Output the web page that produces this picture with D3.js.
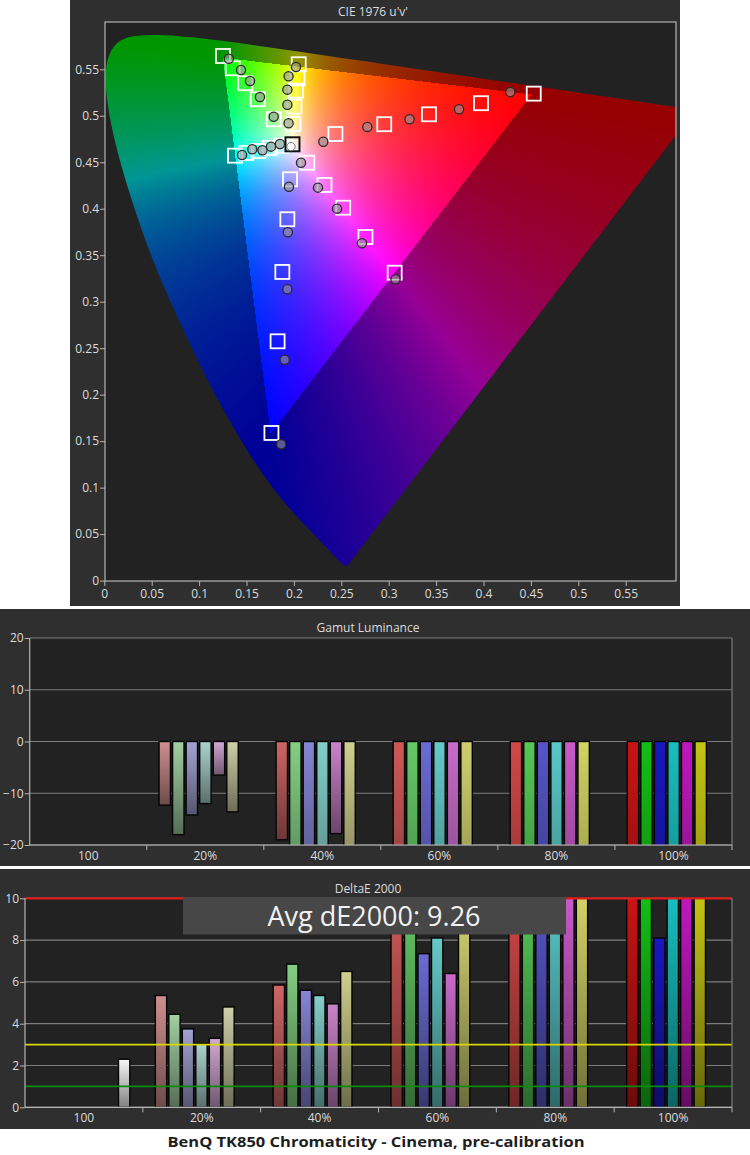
<!DOCTYPE html>
<html><head><meta charset="utf-8">
<script src="https://cdn.jsdelivr.net/npm/d3@7"></script>
<style>
body{margin:0;background:#fff;}
svg{display:block;}
text{font-family:"Open Sans","Noto Sans","DejaVu Sans",sans-serif;}
</style></head>
<body>
<svg id="chart" width="750" height="1155"></svg>
<script>
// ---------------- DATA ----------------
// Spectral locus (CIE 1976 u'v'), 380nm .. 700nm
const locusU = [0.2568,0.2557,0.2547,0.2522,0.2461,0.2347,0.2266,0.2161,0.2033,0.1877,0.1690,0.1441,0.1147,0.0828,0.0521,0.0282,0.0119,0.0035,0.0014,0.0046,0.0123,0.0231,0.0360,0.0501,0.0643,0.0792,0.0953,0.1127,0.1319,0.1531,0.1766,0.2026,0.2312,0.2623,0.2960,0.3315,0.3681,0.4035,0.4379,0.4692,0.5203,0.5565,0.5830,0.6005,0.6234];
const locusV = [0.0166,0.0159,0.0159,0.0169,0.0226,0.0350,0.0437,0.0549,0.0688,0.0871,0.1119,0.1510,0.2044,0.2708,0.3427,0.4117,0.4698,0.5131,0.5432,0.5638,0.5770,0.5837,0.5861,0.5868,0.5865,0.5856,0.5841,0.5821,0.5796,0.5766,0.5732,0.5694,0.5651,0.5604,0.5554,0.5501,0.5446,0.5393,0.5342,0.5296,0.5219,0.5165,0.5125,0.5099,0.5065];

const uvTicks = [0,0.05,0.1,0.15,0.2,0.25,0.3,0.35,0.4,0.45,0.5,0.55];

// Targets (squares) and measurements (circles), 20%..100% saturation
const whiteTarget = [0.1985,0.4693];
const whiteMeasured = [0.1969,0.4668];
const redTargets = [[0.2438,0.4804],[0.2953,0.4909],[0.3425,0.5016],[0.3974,0.5135],[0.4530,0.5238]];
const redMeasured = [[0.2310,0.4721],[0.2775,0.4880],[0.3220,0.4962],[0.3742,0.5070],[0.4283,0.5256]];
const greenTargets = [[0.1788,0.4962],[0.1618,0.5178],[0.1487,0.5350],[0.1355,0.5511],[0.1252,0.5643]];
const greenMeasured = [[0.1787,0.4990],[0.1642,0.5202],[0.1537,0.5374],[0.1442,0.5493],[0.1314,0.5614]];
const blueTargets = [[0.1959,0.4317],[0.1931,0.3887],[0.1878,0.3320],[0.1828,0.2574],[0.1763,0.1588]];
const blueMeasured = [[0.1948,0.4237],[0.1936,0.3747],[0.1931,0.3134],[0.1903,0.2376],[0.1866,0.1466]];
const cyanTargets = [[0.1866,0.4678],[0.1746,0.4654],[0.1627,0.4621],[0.1499,0.4600],[0.1379,0.4571]];
const cyanMeasured = [[0.1853,0.4697],[0.1758,0.4668],[0.1668,0.4629],[0.1561,0.4640],[0.1453,0.4578]];
const magentaTargets = [[0.2141,0.4495],[0.2323,0.4256],[0.2520,0.4011],[0.2755,0.3696],[0.3063,0.3312]];
const magentaMeasured = [[0.2075,0.4495],[0.2254,0.4227],[0.2455,0.4001],[0.2718,0.3628],[0.3072,0.3241]];
const yellowTargets = [[0.1994,0.4912],[0.2005,0.5098],[0.2022,0.5270],[0.2038,0.5403],[0.2051,0.5554]];
const yellowMeasured = [[0.1944,0.4919],[0.1931,0.5119],[0.1931,0.5281],[0.1944,0.5425],[0.2022,0.5525]];

// Bar charts
const groups = ["100","20%","40%","60%","80%","100%"];
const colorNames = ["Red","Green","Blue","Cyan","Magenta","Yellow"];
const lumTicks = [-20,-10,0,10,20];
const lumWhite = 0;
const lum20 = [-12.3,-18.0,-14.2,-12.0,-6.5,-13.6];
const lum40 = [-19.0,-38,-36,-40,-17.8,-34];
const lum60 = [-45,-48,-44,-46,-42,-47];
const lum80 = [-50,-52,-49,-51,-48,-53];
const lum100 = [-55,-58,-54,-56,-52,-57];

const deTicks = [0,2,4,6,8,10];
const deWhite = 2.3;
const de20 = [5.35,4.45,3.75,3.05,3.3,4.8];
const de40 = [5.85,6.85,5.6,5.35,4.95,6.5];
const de60 = [9.6,10.2,7.35,8.1,6.4,9.3];
const de80 = [13.5,14.5,12.0,12.5,14.0,13.5];
const de100 = [17.5,19.0,8.1,15.5,17.0,16.85];
const deAvgLabel = "Avg dE2000: 9.26";
const deThresholds = [10,3,1];

const barColors20 = ["#d08f8f","#a2cfa2","#a3a3d4","#acd3ce","#d3a7d3","#cfcfa8"];
const barColors40 = ["#cf6666","#84cf84","#8585d4","#84cfca","#ca84ca","#cfcf8e"];
const barColors60 = ["#cf5858","#66ca66","#6b6bd4","#66caca","#ca6bca","#cfcf70"];
const barColors80 = ["#d04848","#55c855","#5555c8","#5ac8c8","#c85ac8","#d2d264"];
const barColors100 = ["#c81414","#14be14","#1818be","#18bebe","#be18be","#c4c414"];
const whiteBarColor = "#f6f6f6";

// ---------------- CHART ----------------
const svg = d3.select("#chart");
const defs = svg.append("defs");
const FONT_COL = "#dcdcdc";
const PANEL = "#2f2f2f", PLOT = "#222222", GRID = "#7c7c7c", AXIS = "#b4b4b4";

// ---------- Top panel: CIE 1976 u'v' ----------
svg.append("rect").attr("x",70).attr("y",0).attr("width",610).attr("height",606).attr("fill",PANEL);
svg.append("text").attr("x",373).attr("y",16).attr("text-anchor","middle")
  .attr("font-size",12).attr("fill",FONT_COL).text("CIE 1976 u'v'");

const pL=105, pT=22, pR=676, pB=581;
const xU = d3.scaleLinear().domain([0,0.6]).range([104.3,673.1]);
const yV = d3.scaleLinear().domain([0,0.6]).range([580.6,22.8]);

svg.append("rect").attr("x",pL).attr("y",pT).attr("width",pR-pL).attr("height",pB-pT).attr("fill",PLOT);

defs.append("clipPath").attr("id","cieClip").append("rect")
  .attr("x",pL).attr("y",pT).attr("width",pR-pL).attr("height",pB-pT);

const locusPts = locusU.map((u,i)=>[xU(u), yV(locusV[i])]);
const locusPath = d3.line().curve(d3.curveCatmullRom.alpha(0.5))(locusPts) + "Z";
defs.append("clipPath").attr("id","locusClip").append("path").attr("d",locusPath);

// colour fill of the diagram
const W = pR-pL, H = pB-pT;
const cv = document.createElement("canvas"); cv.width=W; cv.height=H;
const ctx = cv.getContext("2d");
const im = ctx.createImageData(W,H);
for(let j=0;j<H;j++){
  const v = yV.invert(pT+j+0.5);
  for(let i=0;i<W;i++){
    const u = xU.invert(pL+i+0.5);
    const d = 6*u-16*v+12;
    const x = 9*u/d, y = 4*v/d;
    let r=0,g=0,b=0;
    if(y>1e-4){
      const X=x/y, Y=1, Z=(1-x-y)/y;
      r = 3.2406*X-1.5372*Y-0.4986*Z;
      g = -0.9689*X+1.8758*Y+0.0415*Z;
      b = 0.0557*X-0.2040*Y+1.0570*Z;
      const inG = r>=0&&g>=0&&b>=0;
      r=Math.max(r,0); g=Math.max(g,0); b=Math.max(b,0);
      const m=Math.max(r,g,b)||1;
      const k = inG?255:150;
      r=r/m*k; g=g/m*k; b=b/m*k;
    }
    const o=(j*W+i)*4;
    im.data[o]=r; im.data[o+1]=g; im.data[o+2]=b; im.data[o+3]=255;
  }
}
ctx.putImageData(im,0,0);
const cie = svg.append("g").attr("clip-path","url(#cieClip)");
cie.append("image").attr("x",pL).attr("y",pT).attr("width",W).attr("height",H)
  .attr("href",cv.toDataURL()).attr("clip-path","url(#locusClip)");

// frame + axes
svg.append("rect").attr("x",pL).attr("y",pT).attr("width",pR-pL).attr("height",pB-pT)
  .attr("fill","none").attr("stroke",AXIS).attr("stroke-width",1.2);
const fmt = d=>String(d);
const xAx = svg.append("g").attr("transform",`translate(0,${pB})`)
  .call(d3.axisBottom(xU).tickValues(uvTicks).tickFormat(fmt).tickSize(5).tickPadding(3));
const yAx = svg.append("g").attr("transform",`translate(${pL},0)`)
  .call(d3.axisLeft(yV).tickValues(uvTicks).tickFormat(fmt).tickSize(5).tickPadding(1));
[xAx,yAx].forEach(a=>{
  a.select(".domain").remove();
  a.selectAll("line").attr("stroke",AXIS);
  a.selectAll("text").attr("fill",FONT_COL).attr("font-size",12).attr("font-family",null);
});

// markers
const allTargets = [redTargets,greenTargets,blueTargets,cyanTargets,magentaTargets,yellowTargets].flat();
const allMeasured = [redMeasured,greenMeasured,blueMeasured,cyanMeasured,magentaMeasured,yellowMeasured].flat();
const mk = cie.append("g");
const S = 14;
mk.selectAll("rect.t").data(allTargets).join("rect").attr("class","t")
  .attr("x",d=>xU(d[0])-S/2).attr("y",d=>yV(d[1])-S/2).attr("width",S).attr("height",S)
  .attr("fill","none").attr("stroke","#ffffff").attr("stroke-width",1.8);
mk.append("rect").attr("x",xU(whiteTarget[0])-S/2).attr("y",yV(whiteTarget[1])-S/2)
  .attr("width",S).attr("height",S).attr("fill","none").attr("stroke","#111").attr("stroke-width",2);
mk.selectAll("circle.m").data(allMeasured).join("circle").attr("class","m")
  .attr("cx",d=>xU(d[0])).attr("cy",d=>yV(d[1])).attr("r",4.6)
  .attr("fill","rgba(150,150,150,0.6)").attr("stroke","#2a2a2a").attr("stroke-width",1.3);
mk.append("circle").attr("cx",xU(whiteMeasured[0])).attr("cy",yV(whiteMeasured[1])).attr("r",4.2)
  .attr("fill","#fafafa").attr("stroke","#555").attr("stroke-width",0.8);

// ---------- gradients for bars ----------
const gradId = {};
function grad(c){
  if(gradId[c]) return gradId[c];
  const id = "g"+c.replace("#","");
  const lg = defs.append("linearGradient").attr("id",id).attr("x1",0).attr("y1",0).attr("x2",0).attr("y2",1);
  lg.append("stop").attr("offset",0).attr("stop-color",c);
  lg.append("stop").attr("offset",1).attr("stop-color",d3.color(c).darker(1.8).formatHex());
  gradId[c]="url(#"+id+")";
  return gradId[c];
}
const levelColors = [barColors20,barColors40,barColors60,barColors80,barColors100];

function buildBars(white, levels){
  const bars = [{group:groups[0], slot:6, value:white, color:whiteBarColor}];
  levels.forEach((arr,li)=>arr.forEach((v,ci)=>bars.push({group:groups[li+1], slot:ci, value:v, color:levelColors[li][ci], name:colorNames[ci]})));
  return bars;
}

function barPanel(cfg){
  svg.append("rect").attr("x",0).attr("y",cfg.panelY).attr("width",750).attr("height",cfg.panelH).attr("fill",PANEL);
  svg.append("rect").attr("x",cfg.x0).attr("y",cfg.yTop).attr("width",cfg.x1-cfg.x0).attr("height",cfg.yBot-cfg.yTop).attr("fill",PLOT);
  svg.append("text").attr("x",cfg.titleX).attr("y",cfg.titleY).attr("text-anchor","middle")
    .attr("font-size",12).attr("fill",FONT_COL).text(cfg.title);
  const y = d3.scaleLinear().domain(cfg.domain).range([cfg.yBot,cfg.yTop]);
  const yb = y.copy().clamp(!!cfg.clamp);
  const gx = d3.scaleBand().domain(groups).range([cfg.x0,cfg.x1]);
  const slot = d3.scaleBand().domain(d3.range(7)).range([cfg.slot0, cfg.slot0+6*cfg.step+cfg.bw]).paddingInner(1-cfg.bw/cfg.step);
  // grid
  svg.append("g").selectAll("line").data(cfg.ticks).join("line")
    .attr("x1",cfg.x0).attr("x2",cfg.x1).attr("y1",d=>y(d)).attr("y2",d=>y(d))
    .attr("stroke",GRID).attr("stroke-width",1.2);
  const id = "clip"+cfg.panelY;
  defs.append("clipPath").attr("id",id).append("rect").attr("x",cfg.x0).attr("y",cfg.yTop-1).attr("width",cfg.x1-cfg.x0).attr("height",cfg.yBot-cfg.yTop+1);
  const bg = svg.append("g").attr("clip-path",`url(#${id})`);
  const bars = buildBars(cfg.white, cfg.levels);
  bg.selectAll("rect").data(bars).join("rect")
    .attr("x",d=>gx(d.group)+slot(d.slot)).attr("width",slot.bandwidth())
    .attr("y",d=>Math.min(yb(0),yb(d.value))).attr("height",d=>Math.abs(yb(d.value)-yb(0)))
    .attr("fill",d=>grad(d.color)).attr("stroke","#050505").attr("stroke-width",1.4);
  if(cfg.extra) cfg.extra(y, bg);
  // axes
  const ax = svg.append("g").attr("transform",`translate(${cfg.x0},0)`)
    .call(d3.axisLeft(y).tickValues(cfg.ticks).tickSize(5).tickPadding(1));
  ax.select(".domain").remove();
  svg.append("line").attr("x1",cfg.x0).attr("x2",cfg.x0).attr("y1",cfg.yTop).attr("y2",cfg.yBot).attr("stroke",AXIS).attr("stroke-width",1.2);
  svg.append("line").attr("x1",cfg.x1).attr("x2",cfg.x1).attr("y1",cfg.yTop).attr("y2",cfg.yBot).attr("stroke",GRID).attr("stroke-width",1.2);
  svg.append("line").attr("x1",cfg.x0).attr("x2",cfg.x1).attr("y1",cfg.yBot).attr("y2",cfg.yBot).attr("stroke",AXIS).attr("stroke-width",1.2);
  const bx = svg.append("g").attr("transform",`translate(0,${cfg.yBot})`);
  bx.selectAll("line").data(groups.map((g,i)=>gx(g)+gx.bandwidth()).slice(0)).join("line")
    .attr("x1",d=>d).attr("x2",d=>d).attr("y1",0).attr("y2",5).attr("stroke",AXIS);
  bx.selectAll("text").data(groups).join("text")
    .attr("x",d=>gx(d)+gx.bandwidth()/2).attr("y",15).attr("text-anchor","middle")
    .attr("font-size",12).attr("fill",FONT_COL).text(d=>d);
  ax.selectAll("line").attr("stroke",AXIS);
  ax.selectAll("text").attr("fill",FONT_COL).attr("font-size",12).attr("font-family",null);
  return y;
}

// ---------- Gamut Luminance ----------
barPanel({panelY:609, panelH:257, x0:29.7, x1:732, yTop:638, yBot:845, domain:[-20,20],
  ticks:lumTicks, title:"Gamut Luminance", titleX:368, titleY:632,
  slot0:12.3, step:13.55, bw:11.4, white:lumWhite, levels:[lum20,lum40,lum60,lum80,lum100]});

// ---------- DeltaE 2000 ----------
const thrColors = ["#e01e1e","#d8d800","#0a8a0a"];
barPanel({panelY:869, panelH:260, x0:25, x1:732, yTop:898.3, yBot:1107.3, domain:[0,10], clamp:true,
  ticks:deTicks, title:"DeltaE 2000", titleX:368, titleY:893,
  slot0:12.5, step:13.5, bw:11.3, white:deWhite, levels:[de20,de40,de60,de80,de100],
  extra:(y,bg)=>{
    svg.selectAll("line.thr").data(deThresholds).join("line").attr("class","thr")
      .attr("x1",25).attr("x2",732).attr("y1",d=>y(d)).attr("y2",d=>y(d))
      .attr("stroke",(d,i)=>thrColors[i]).attr("stroke-width",(d,i)=>i===0?2.2:1.6);
    svg.append("rect").attr("x",183).attr("y",897).attr("width",383).attr("height",37.5).attr("fill","#474747");
    svg.append("text").attr("x",374).attr("y",926).attr("text-anchor","middle")
      .attr("font-size",27).attr("fill","#f2f2f2").text(deAvgLabel);
  }});

svg.append("text").attr("x",376).attr("y",1147).attr("text-anchor","middle")
  .attr("font-size",15).attr("font-weight","bold").attr("fill","#1e1e1e")
  .attr("textLength",417).attr("lengthAdjust","spacingAndGlyphs")
  .text("BenQ TK850 Chromaticity - Cinema, pre-calibration");
</script>
</body></html>
